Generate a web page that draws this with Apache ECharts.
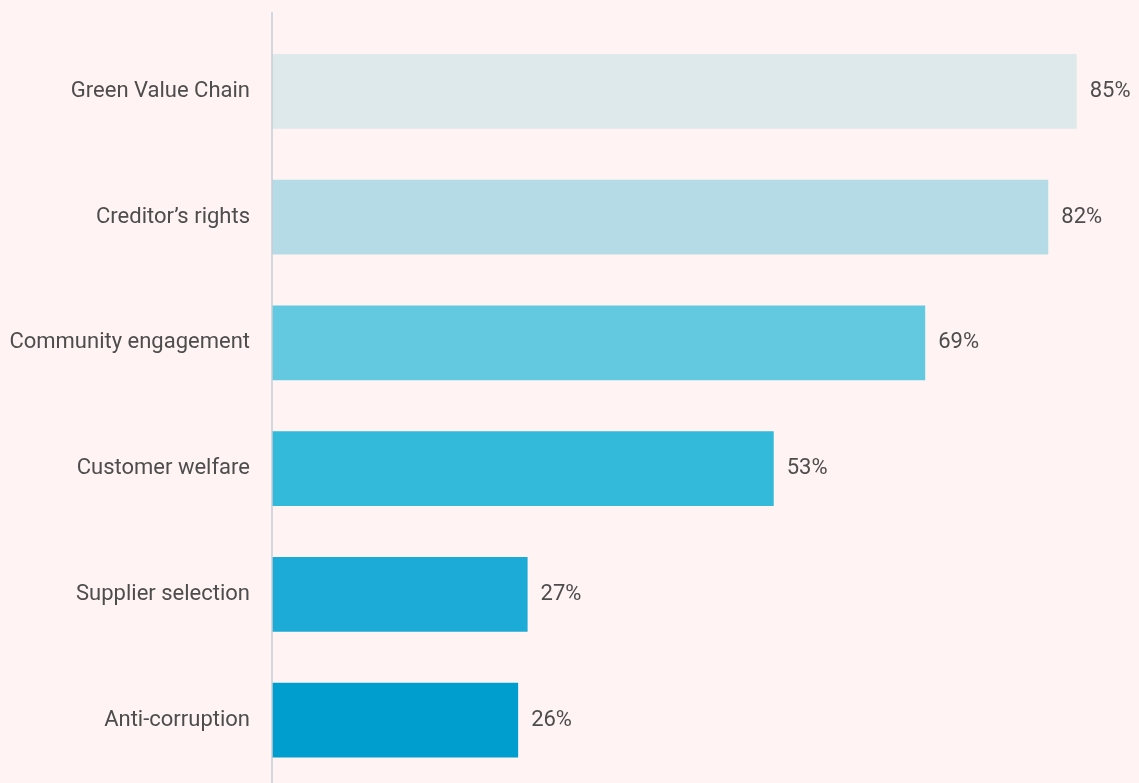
<!DOCTYPE html>
<html>
<head>
<meta charset="utf-8">
<script src="https://cdn.jsdelivr.net/npm/echarts@6/dist/echarts.min.js"></script>
<style>
  html, body { margin: 0; padding: 0; background: #fff4f3; }
  #chart { width: 1139px; height: 783px; }
</style>
</head>
<body>
<div id="chart"></div>
<script>
// Share of companies covering each topic (%), listed top to bottom
const categories = [
  'Green Value Chain',
  'Creditor\u2019s rights',
  'Community engagement',
  'Customer welfare',
  'Supplier selection',
  'Anti-corruption'
];
const values = [85, 82, 69, 53, 27, 26];
const barColors = ['#dde9ea', '#b5dce6', '#62c9e1', '#33bada', '#1babd6', '#009dcf'];

const FONT = 'Roboto, "Noto Sans", sans-serif';
const TEXT_COLOR = '#4d4d4d';

const chart = echarts.init(document.getElementById('chart'), null, { renderer: 'canvas' });

chart.setOption({
  backgroundColor: '#fff4f3',
  animation: false,
  grid: { left: 272, right: 15, top: 28.6, bottom: -0.4, containLabel: false },
  xAxis: {
    type: 'value',
    min: 0,
    max: 90,
    show: false
  },
  yAxis: {
    type: 'category',
    inverse: true,
    data: categories,
    axisLine: { show: false },
    axisTick: { show: false },
    axisLabel: {
      margin: 22,
      fontFamily: FONT,
      fontSize: 22,
      color: TEXT_COLOR
    }
  },
  graphic: [{
    // vertical baseline running the full height
    type: 'line',
    shape: { x1: 272, y1: 12, x2: 272, y2: 783 },
    style: { stroke: '#c4ced7', lineWidth: 1.5 },
    z: 10
  }],
  series: [{
    type: 'bar',
    data: values.map((v, i) => ({ value: v, itemStyle: { color: barColors[i] } })),
    barWidth: '59.4%',
    label: {
      show: true,
      position: 'right',
      distance: 13,
      formatter: '{c}%',
      fontFamily: FONT,
      fontSize: 22,
      color: TEXT_COLOR
    }
  }]
});
</script>
</body>
</html>
